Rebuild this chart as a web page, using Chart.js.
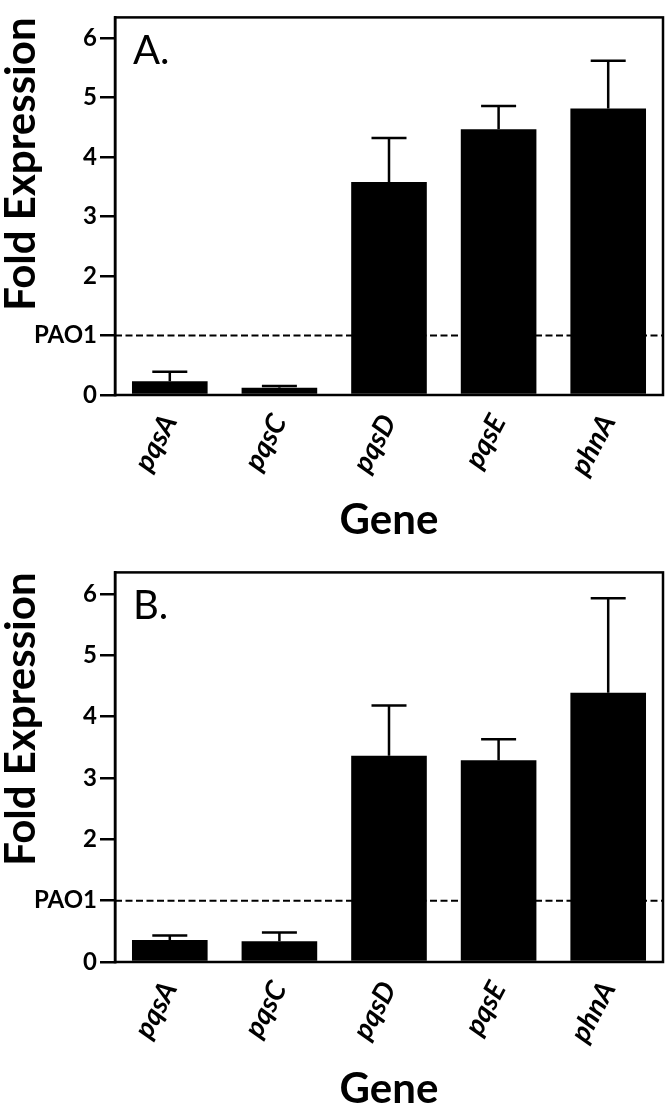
<!DOCTYPE html>
<html>
<head>
<meta charset="utf-8">
<script src="https://cdn.jsdelivr.net/npm/chart.js@4.4.0/dist/chart.umd.min.js"></script>
<style>
  html, body { margin: 0; padding: 0; background: #fff; }
  .panel { position: absolute; left: 0; width: 666px; height: 555px; }
</style>
</head>
<body>
<div class="panel" style="top:0"><canvas id="chartA" width="666" height="555"></canvas></div>
<div class="panel" style="top:555px"><canvas id="chartB" width="666" height="555"></canvas></div>
<script>
// values (bar height and upper error bar)
const genes = ['pqsA', 'pqsC', 'pqsD', 'pqsE', 'phnA'];
const foldA = [0.23, 0.12, 3.58, 4.47, 4.82];
const errA = [0.16, 0.03, 0.74, 0.39, 0.80];
const foldB = [0.36, 0.34, 3.36, 3.29, 4.39];
const errB = [0.07, 0.14, 0.82, 0.34, 1.54];
const yTicks = [0, 1, 2, 3, 4, 5, 6];
const yTickLabels = ['0', 'PAO1', '2', '3', '4', '5', '6'];
const yMax = 6.35;
const pao1Level = 1;

const FONT = 'Lato, "Open Sans", sans-serif';

// dashed PAO1 line, error bars, frame and panel letter
const panelDecor = {
    id: 'panelDecor',
    beforeDatasetsDraw(chart, args, opts) {
        const { ctx, chartArea: a } = chart;
        const y = chart.scales.y.getPixelForValue(opts.refLevel);
        ctx.save();
        ctx.strokeStyle = '#000';
        ctx.lineWidth = 2;
        ctx.setLineDash([7, 3.5]);
        ctx.beginPath();
        ctx.moveTo(a.left, y);
        ctx.lineTo(a.right, y);
        ctx.stroke();
        ctx.restore();
    },
    afterDatasetsDraw(chart, args, opts) {
        const { ctx, chartArea: a } = chart;
        const yScale = chart.scales.y;
        const bars = chart.getDatasetMeta(0).data;
        const values = chart.data.datasets[0].data;
        ctx.save();
        ctx.strokeStyle = '#000';
        ctx.lineWidth = 2.5;
        bars.forEach((bar, i) => {
            const top = yScale.getPixelForValue(values[i] + opts.errors[i]);
            ctx.beginPath();
            ctx.moveTo(bar.x, bar.y);
            ctx.lineTo(bar.x, top);
            ctx.moveTo(bar.x - 17.5, top);
            ctx.lineTo(bar.x + 17.5, top);
            ctx.stroke();
        });
        ctx.strokeRect(a.left, a.top, a.right - a.left, a.bottom - a.top);
        ctx.fillStyle = '#000';
        ctx.font = '40px ' + FONT;
        ctx.textBaseline = 'alphabetic';
        ctx.fillText(opts.label, a.left + 18, a.top + 47);
        ctx.restore();
    },
};

function makeChart(id, values, errors, label, padTop, xAxisHeight, titlePad) {
    const ctx = document.getElementById(id).getContext('2d');
    return new Chart(ctx, {
        type: 'bar',
        data: {
            labels: genes,
            datasets: [{
                data: values,
                backgroundColor: '#000',
                borderWidth: 0,
                barPercentage: 0.69,
                categoryPercentage: 1,
            }],
        },
        plugins: [panelDecor],
        options: {
            responsive: false,
            animation: false,
            layout: { padding: { top: padTop, right: 3, left: 0, bottom: 0 } },
            plugins: {
                legend: { display: false },
                tooltip: { enabled: false },
                panelDecor: { errors: errors, label: label, refLevel: pao1Level },
            },
            scales: {
                x: {
                    grid: { display: false },
                    border: { display: false },
                    ticks: {
                        color: '#000',
                        minRotation: 62,
                        maxRotation: 62,
                        padding: 6,
                        font: { family: FONT, size: 28, weight: 'bold', style: 'italic' },
                    },
                    title: {
                        display: true,
                        text: 'Gene',
                        color: '#000',
                        font: { family: FONT, size: 42, weight: 'bold', lineHeight: 1 },
                        padding: { top: 0, bottom: titlePad },
                    },
                    afterFit: (s) => { s.height = xAxisHeight; },
                },
                y: {
                    min: 0,
                    max: yMax,
                    afterBuildTicks: (s) => { s.ticks = yTicks.map((v) => ({ value: v })); },
                    grid: {
                        drawOnChartArea: false,
                        drawTicks: true,
                        tickLength: 15,
                        tickWidth: 2.5,
                        tickColor: '#000',
                        color: '#000',
                        lineWidth: 2.5,
                    },
                    border: { display: true, color: '#000', width: 2.5 },
                    ticks: {
                        color: '#000',
                        padding: 3,
                        font: { family: FONT, weight: 'bold', size: 24 },
                        callback: (v, i) => yTickLabels[i],
                    },
                    title: {
                        display: true,
                        text: 'Fold Expression',
                        align: 'end',
                        color: '#000',
                        font: { family: FONT, size: 42, weight: 'bold', lineHeight: 1 },
                        padding: 0,
                    },
                    afterFit: (s) => { s.width = 115; },
                },
            },
        },
    });
}

makeChart('chartA', foldA, errA, 'A.', 3, 160, 14);
makeChart('chartB', foldB, errB, 'B.', 14, 148, 0);
</script>
</body>
</html>
